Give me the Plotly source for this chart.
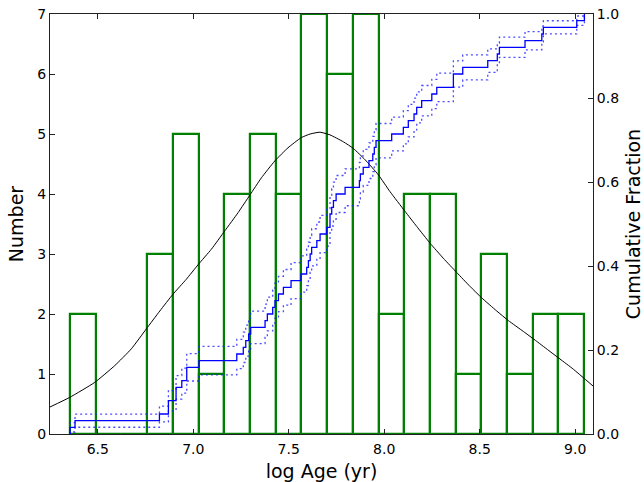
import numpy as np
import plotly.graph_objects as go

# ---------------- data ----------------
bin_edges = [6.355, 6.490, 6.624, 6.759, 6.893, 7.028, 7.163, 7.297, 7.432, 7.566,
             7.701, 7.836, 7.970, 8.105, 8.239, 8.374, 8.509, 8.643, 8.778, 8.912, 9.047]
bin_counts = [2, 0, 0, 3, 5, 1, 4, 5, 4, 7, 6, 7, 2, 4, 4, 1, 3, 1, 2, 2]

log_ages = [6.355, 6.381,
            6.823, 6.870, 6.870,
            6.910, 6.910, 6.940, 6.966, 6.966,
            7.030,
            7.228, 7.262, 7.275, 7.290,
            7.301, 7.376, 7.388, 7.416, 7.428,
            7.446, 7.472, 7.512, 7.564,
            7.594, 7.603, 7.612, 7.620, 7.647, 7.664, 7.699,
            7.716, 7.716, 7.725, 7.734, 7.748, 7.795,
            7.870, 7.875, 7.890, 7.920, 7.940, 7.948, 7.957,
            8.039, 8.100,
            8.126, 8.156, 8.170, 8.196,
            8.249, 8.275, 8.362, 8.362,
            8.411,
            8.542, 8.592, 8.603,
            8.737,
            8.825, 8.833,
            9.008, 9.048]

model_x = [6.25, 6.353, 6.484, 6.589, 6.676, 6.754, 6.825, 6.894, 6.964, 7.025,
           7.095, 7.165, 7.235, 7.296, 7.357, 7.427, 7.496, 7.566, 7.612, 7.664,
           7.716, 7.786, 7.838, 7.900, 7.969, 8.030, 8.109, 8.170, 8.240, 8.309,
           8.380, 8.449, 8.510, 8.589, 8.650, 8.728, 8.798, 8.868, 8.920, 8.990, 9.093]
model_y = [0.45, 0.61, 0.86, 1.14, 1.42, 1.75, 2.05, 2.33, 2.58, 2.82,
           3.08, 3.385, 3.69, 3.98, 4.27, 4.55, 4.77, 4.94, 5.00, 5.03,
           4.985, 4.87, 4.76, 4.57, 4.32, 4.04, 3.71, 3.46, 3.18, 2.93,
           2.69, 2.46, 2.27, 2.05, 1.89, 1.71, 1.545, 1.375, 1.25, 1.08, 0.80]

x_ticks = [6.5, 7.0, 7.5, 8.0, 8.5, 9.0]
band_neff = 126  # effective sample size used for the CDF uncertainty band

# ---------------- derived ----------------
edges = np.array(bin_edges)
centers = (edges[:-1] + edges[1:]) / 2
widths = np.diff(edges)

ages = np.sort(np.array(log_ages))
n = len(ages)
frac = np.arange(1, n + 1) / n
cdf_x = np.concatenate([[ages[0]], ages])
cdf_y = np.concatenate([[0.0], frac])
err = np.sqrt(cdf_y * (1 - cdf_y) / band_neff)
upper = np.minimum(cdf_y + err, 1.0)
lower = np.maximum(cdf_y - err, 0.0)

GREEN = "#008000"
FONT = "DejaVu Sans"

fig = go.Figure()
fig.add_trace(go.Bar(
    x=centers, y=bin_counts, width=widths,
    marker=dict(color="rgba(0,0,0,0)", line=dict(color=GREEN, width=2.2)),
    showlegend=False, hoverinfo="skip"))
fig.add_trace(go.Scatter(
    x=model_x, y=model_y, mode="lines",
    line=dict(color="black", width=1, shape="spline", smoothing=0.5),
    showlegend=False, hoverinfo="skip"))
for yy in (upper, lower):
    fig.add_trace(go.Scatter(
        x=cdf_x, y=yy, yaxis="y2", mode="lines",
        line=dict(color="rgba(30,30,255,0.8)", width=1.3, dash="2px,3px", shape="hv"),
        showlegend=False, hoverinfo="skip"))
fig.add_trace(go.Scatter(
    x=cdf_x, y=cdf_y, yaxis="y2", mode="lines",
    line=dict(color="#0000ff", width=1.3, shape="hv"),
    showlegend=False, hoverinfo="skip"))

axis_common = dict(showgrid=False, zeroline=False, showline=True, linecolor="#222",
                   linewidth=1, ticks="inside", ticklen=5, tickwidth=1, tickcolor="#222",
                   automargin=False,
                   tickfont=dict(family=FONT, size=14, color="black"))

fig.update_layout(
    width=644, height=482,
    margin=dict(l=50, r=51, t=14, b=48),
    plot_bgcolor="white", paper_bgcolor="white",
    font=dict(family=FONT, color="black"),
    bargap=0,
    xaxis=dict(range=[6.25, 9.093], tickvals=x_ticks, ticktext=[f"{v:.1f}" for v in x_ticks],
               mirror="ticks", ticklabelstandoff=2,
               title=dict(text="log Age (yr)", font=dict(family=FONT, size=19), standoff=8),
               **axis_common),
    yaxis=dict(range=[0, 7], dtick=1, tick0=0,
               title=dict(text="Number", font=dict(family=FONT, size=19), standoff=8),
               **axis_common),
    yaxis2=dict(range=[0, 1], dtick=0.2, tick0=0, tickformat=".1f",
                overlaying="y", side="right",
                title=dict(text="Cumulative Fraction", font=dict(family=FONT, size=19), standoff=17),
                **axis_common),
)

fig.write_html("out.html")
